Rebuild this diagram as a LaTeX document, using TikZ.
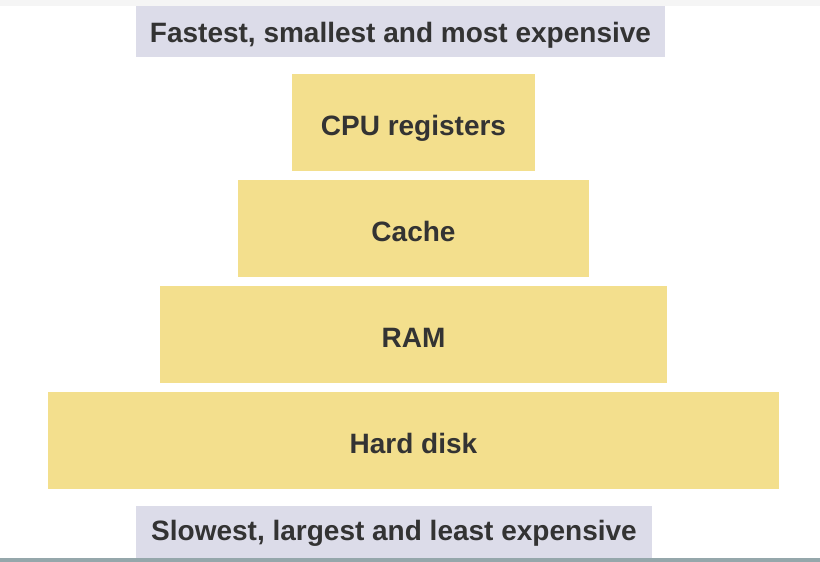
\documentclass[tikz,border=0pt]{standalone}
\usepackage{fontspec}
\setmainfont{Liberation Sans}
\definecolor{tieryellow}{HTML}{F3DF8D}
\definecolor{notelilac}{HTML}{DCDCE9}
\definecolor{labelgrey}{HTML}{333333}
\definecolor{barblue}{HTML}{95A7AB}
\tikzset{
    tierbox/.style={fill=tieryellow, inner sep=0pt, minimum height=97pt, text=labelgrey,
        text height=25pt, text depth=0pt, font=\fontsize{28}{32}\selectfont\bfseries},
    notebox/.style={fill=notelilac, inner sep=0pt, minimum height=51pt, text=labelgrey,
        text height=22pt, text depth=0pt, font=\fontsize{28}{32}\selectfont\bfseries}
}

\begin{document}
\begin{tikzpicture}[x=1pt, y=-1pt]
    \useasboundingbox (0, 0) rectangle (820, 562);
    \fill[white] (0, 0) rectangle (820, 562);
    \fill[black!4] (0, 0) rectangle (820, 6);
    \node[notebox, minimum width=529pt] (fast) at (400.5, 31.5) {Fastest, smallest and most expensive};
    \node[tierbox, minimum width=243pt] (cpu) at (413.5, 122.5) {CPU registers};
    \node[tierbox, minimum width=351pt] (cache) at (413.5, 228.5) {Cache};
    \node[tierbox, minimum width=507pt] (ram) at (413.5, 334.5) {RAM};
    \node[tierbox, minimum width=731pt] (disk) at (413.5, 440.5) {Hard disk};
    \node[notebox, minimum width=516pt, minimum height=56pt, text height=20pt, text depth=8pt]
        (slow) at (394, 534) {Slowest, largest and least expensive};
    \fill[barblue] (0, 558) rectangle (820, 562);
\end{tikzpicture}
\end{document}
